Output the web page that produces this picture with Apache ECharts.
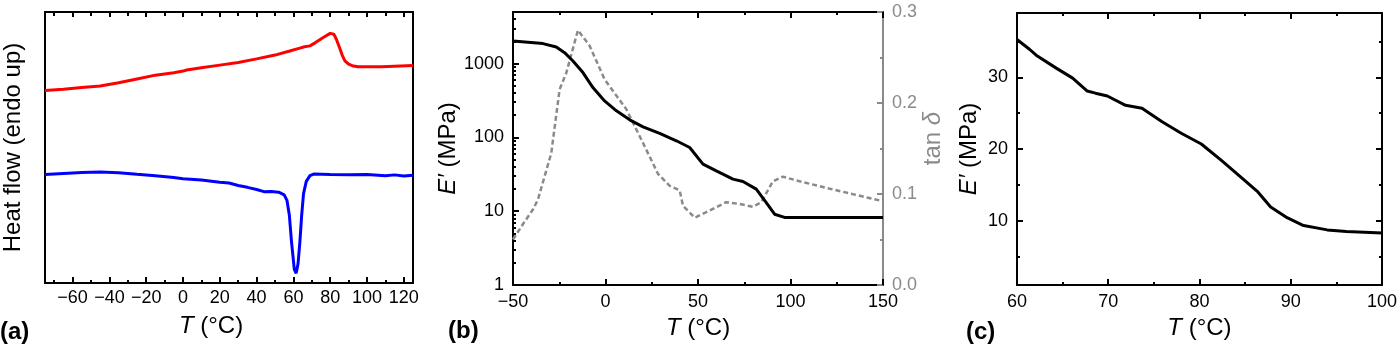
<!DOCTYPE html>
<html><head><meta charset="utf-8">
<script src="https://cdn.jsdelivr.net/npm/echarts@6/dist/echarts.min.js"></script>
<style>html,body{margin:0;padding:0;background:#fff}#c{width:1400px;height:345px}</style>
</head><body><div id="c"></div><script>
// ---------- data ----------
// Panel (a): DSC heat flow (arbitrary units)
const redT  = [-75,-65,-55,-45,-35,-25,-15,-5,0,1,2,10,20,30,40,50,58,63,66,69,72,76,80,82,83.5,85,86.5,88,90,92,95,108,109,125];
const redHF = [71.0,71.5,72.1,72.7,73.9,75.3,76.7,77.6,78.2,77.6,78.6,79.4,80.4,81.4,82.7,84.1,85.6,86.6,87.2,87.5,88.7,90.5,92.1,91.8,89.7,87.0,84.1,82.0,80.8,80.2,79.8,79.8,80.3,80.3];
const blueT  = [-75,-65,-55,-45,-35,-25,-15,-5,0,10,20,25,30,35,40,44,48,52,55,56.5,57.8,59,60.5,61.5,62.5,63.5,64.5,65.5,67,69,71,80,90,100,110,115,120,125];
const blueHF = [40.0,40.4,40.8,41.0,40.7,40.1,39.6,38.9,38.5,38.0,37.2,36.9,36.0,35.3,34.5,33.7,33.8,33.5,32.5,30.5,25.0,15.0,5.0,3.6,7.0,15.0,25.0,33.0,37.5,39.6,40.2,40.0,39.9,40.0,39.6,39.9,39.5,39.8];
const aTickLabels = [-60,-40,-20,0,20,40,60,80,100,120];
const aMinorTicks = [-70,-50,-30,-10,10,30,50,70,90,110];
// Panel (b): DMA storage modulus E' (MPa) and tan delta
const dmaT = [-50,-33.8,-26.6,-22.1,-17.6,-12.2,-6.8,-0.5,5.9,13.1,20.3,29.3,38.3,45.5,52.7,59.9,68.9,74.3,81.5,86.9,91.4,96.8,150];
const dmaE = [2025,1865,1680,1407,1086,756,473,312,229,173,139,113,90,73,43.4,35.2,27.2,25.3,19.9,13.1,9.1,8.24,8.24];
const tanT = [-50,-44.6,-39.2,-36.5,-29.3,-24.8,-21.2,-14.9,-8.6,-0.5,11.3,20.3,28.4,34.7,40.1,41.9,48.2,54.5,65.3,72.5,79.7,84.2,90.5,95.9,104.9,122.9,150];
const tanD = [0.050,0.067,0.083,0.094,0.145,0.215,0.233,0.280,0.263,0.226,0.193,0.156,0.122,0.109,0.104,0.087,0.074,0.080,0.091,0.089,0.086,0.091,0.114,0.119,0.114,0.105,0.092];
const bLogLabels = [1,10,100,1000];
const bLogMinor = [2,3,4,5,6,7,8,9,20,30,40,50,60,70,80,90,200,300,400,500,600,700,800,900,2000,3000,4000,5000];
const bTanLabels = [0,0.1,0.2,0.3];
const bTanMinor = [0.05,0.15,0.25];
const bXLabels = [-50,0,50,100,150];
const bXMinor = [-25,25,75,125];
// Panel (c): E' zoom 60-100 C
const zoomT = [60,61.4,62.1,64.3,66.1,67.7,68.6,69.9,71.9,73.7,75.9,78.0,80.2,82.4,84.5,86.4,87.8,89.6,91.4,94.0,96.1,100];
const zoomE = [35.3,33.9,33.1,31.3,29.9,28.1,27.8,27.4,26.1,25.7,23.8,22.2,20.7,18.4,16.1,14.0,11.9,10.4,9.3,8.7,8.46,8.27];
const cTickLabels = [10,20,30];
const cMinorTicks = [5,15,25,35];
const cXLabels = [60,70,80,90,100];
const cXMinor = [65,75,85,95];

// ---------- helpers ----------
const FONT = "'Liberation Sans', Arial, sans-serif";
const zip = (a,b) => a.map((v,i)=>[v,b[i]]);
const minus = v => v < 0 ? '\u2212' + (-v) : String(v);
const BLK = '#000';
const GRAY = '#8a8a8a';
function lineOf(color){ return {show:true, onZero:false, lineStyle:{color:color||BLK, width:2}}; }
function tickOf(len, vals, color){ return {show:true, inside:true, length:len, customValues:vals, lineStyle:{color:color||BLK, width:2}}; }
function lab(extra){ return Object.assign({show:true, fontSize:18, fontFamily:FONT, color:BLK}, extra); }
const titleStyle = (extra) => Object.assign({fontSize:24, fontFamily:FONT, color:BLK, rich:{i:{fontStyle:'italic', fontSize:24, fontFamily:FONT, color:(extra&&extra.color)||BLK}}}, extra);

function axisDef(grid, pos, type, min, max, ticks, len, opts){
  opts = opts || {};
  const a = {gridIndex:grid, type:type, position:pos, min:min, max:max,
    axisLine: opts.line ? lineOf(opts.color) : {show:false, onZero:false},
    axisTick: tickOf(len, ticks, opts.color),
    axisLabel: opts.labels ? lab(Object.assign({customValues:ticks, color:opts.color||BLK}, opts.labelExtra||{})) : {show:false},
    splitLine:{show:false}};
  if (type === 'log') a.logBase = 10;
  if (opts.name) { a.name = opts.name; a.nameLocation='middle'; a.nameGap=opts.nameGap; a.nameTextStyle=opts.nameStyle; if(opts.nameRotate!==undefined) a.nameRotate=opts.nameRotate; }
  return a;
}

const xAxes = [
  // panel a
  axisDef(0,'bottom','value',-75,125,aTickLabels,6,{line:true,labels:true,labelExtra:{formatter:minus,margin:6},
    name:'{i|T} (°C)',nameGap:31,nameStyle:titleStyle({padding:[0,36,0,0]})}),
  axisDef(0,'bottom','value',-75,125,aMinorTicks,3),
  axisDef(0,'top','value',-75,125,aTickLabels,5,{line:true}),
  axisDef(0,'top','value',-75,125,aMinorTicks,4),
  // panel b
  axisDef(1,'bottom','value',-50,150,bXLabels,6,{line:true,labels:true,labelExtra:{formatter:minus,margin:8},
    name:'{i|T} (°C)',nameGap:31,nameStyle:titleStyle()}),
  axisDef(1,'bottom','value',-50,150,bXMinor,3),
  axisDef(1,'top','value',-50,150,bXLabels,6,{line:true}),
  axisDef(1,'top','value',-50,150,bXMinor,3),
  // panel c
  axisDef(2,'bottom','value',60,100,cXLabels,6,{line:true,labels:true,labelExtra:{margin:8},
    name:'{i|T} (°C)',nameGap:31,nameStyle:titleStyle()}),
  axisDef(2,'bottom','value',60,100,cXMinor,3),
  axisDef(2,'top','value',60,100,cXLabels,6,{line:true}),
  axisDef(2,'top','value',60,100,cXMinor,3)
];
const yAxes = [
  // panel a
  {gridIndex:0, type:'value', position:'left', min:0, max:100, axisLine:lineOf(), axisTick:{show:false}, axisLabel:{show:false}, splitLine:{show:false},
   name:'Heat flow (endo up)', nameLocation:'middle', nameGap:20, nameTextStyle:titleStyle()},
  {gridIndex:0, type:'value', position:'right', min:0, max:100, axisLine:lineOf(), axisTick:{show:false}, axisLabel:{show:false}, splitLine:{show:false}},
  // panel b: log E' (left) and tan delta (right)
  axisDef(1,'left','log',1,5000,bLogLabels,6,{line:true,labels:true,labelExtra:{formatter:v=>String(Math.round(v)),margin:9},
    name:'{i|E′} (MPa)',nameGap:38,nameStyle:titleStyle()}),
  axisDef(1,'left','log',1,5000,bLogMinor,3),
  axisDef(1,'right','value',0,0.3,bTanLabels,6,{line:true,labels:true,color:GRAY,labelExtra:{formatter:v=>v.toFixed(1),margin:9},
    name:'tan {i|δ}',nameGap:27,nameRotate:90,nameStyle:titleStyle({color:GRAY,padding:[0,0,0,20]})}),
  axisDef(1,'right','value',0,0.3,bTanMinor,3,{color:GRAY}),
  // panel c
  axisDef(2,'left','value',1,39,cTickLabels,6,{line:true,labels:true,labelExtra:{margin:9},
    name:'{i|E′} (MPa)',nameGap:36,nameStyle:titleStyle()}),
  axisDef(2,'left','value',1,39,cMinorTicks,3),
  axisDef(2,'right','value',1,39,cTickLabels,6,{line:true}),
  axisDef(2,'right','value',1,39,cMinorTicks,3)
];

const option = {
  animation:false,
  backgroundColor:'#fff',
  grid:[
    {left:44, right:987, top:12, bottom:62},
    {left:513, right:517, top:12, bottom:60},
    {left:1017, right:14, top:13, bottom:60}
  ],
  xAxis:xAxes,
  yAxis:yAxes,
  series:[
    {type:'line', xAxisIndex:0, yAxisIndex:0, data:zip(redT,redHF), showSymbol:false, symbol:'none', lineStyle:{color:'#ff0000', width:3}},
    {type:'line', xAxisIndex:0, yAxisIndex:0, data:zip(blueT,blueHF), showSymbol:false, symbol:'none', lineStyle:{color:'#0000ff', width:3}},
    {type:'line', xAxisIndex:4, yAxisIndex:4, data:zip(tanT,tanD), showSymbol:false, symbol:'none', z:2, lineStyle:{color:GRAY, width:2.5, type:[5,3]}},
    {type:'line', xAxisIndex:4, yAxisIndex:2, data:zip(dmaT,dmaE), showSymbol:false, symbol:'none', z:3, lineStyle:{color:BLK, width:3}},
    {type:'line', xAxisIndex:8, yAxisIndex:6, data:zip(zoomT,zoomE), showSymbol:false, symbol:'none', lineStyle:{color:BLK, width:3}}
  ],
  graphic:[
    {type:'text', left:0, top:320, style:{text:'(a)', font:"bold 24px 'Liberation Sans', Arial, sans-serif", fill:BLK}},
    {type:'text', left:448, top:319, style:{text:'(b)', font:"bold 24px 'Liberation Sans', Arial, sans-serif", fill:BLK}},
    {type:'text', left:966, top:320, style:{text:'(c)', font:"bold 24px 'Liberation Sans', Arial, sans-serif", fill:BLK}}
  ]
};
const chart = echarts.init(document.getElementById('c'), null, {renderer:'canvas'});
chart.setOption(option);
</script></body></html>
